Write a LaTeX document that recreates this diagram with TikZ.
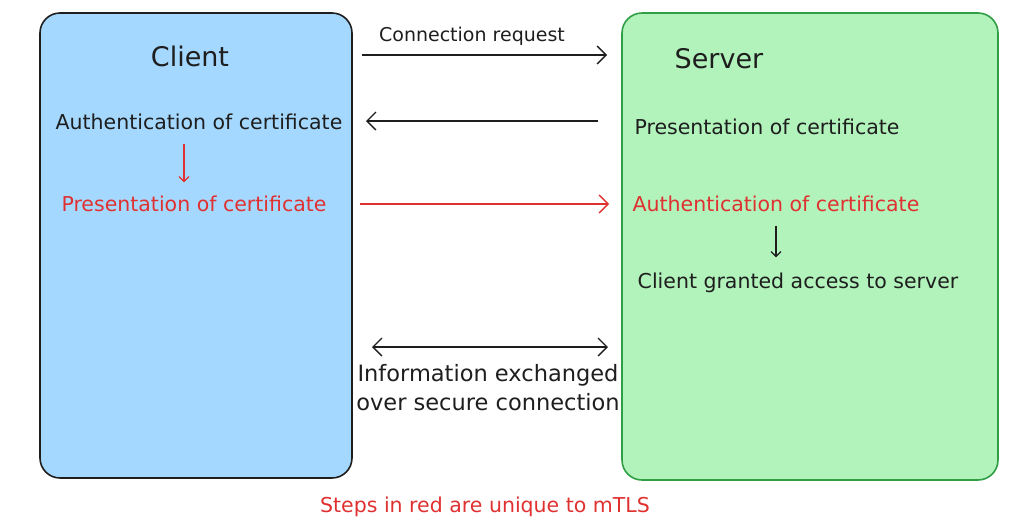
\documentclass[tikz,border=0pt]{standalone}
\usepackage{fontspec}
\setmainfont{DejaVu Sans}
\usetikzlibrary{arrows.meta,calc,positioning}
\definecolor{clientfill}{HTML}{A5D8FF}
\definecolor{serverfill}{HTML}{B2F2BB}
\definecolor{serverline}{HTML}{2F9E44}
\definecolor{inkred}{HTML}{E03131}
\definecolor{ink}{HTML}{1E1E1E}
\tikzstyle{party} = [draw=ink, line width=1.6pt, rounded corners=20pt, inner sep=0pt]
\tikzstyle{title} = [text=ink, font=\fontsize{27}{30}\selectfont]
\tikzstyle{msg} = [text=ink, font=\fontsize{20.5}{24}\selectfont, inner sep=1pt]
\tikzstyle{note} = [font=\fontsize{19}{22}\selectfont, inner sep=1pt]
\tikzstyle{small} = [>={Straight Barb[length=5pt,width=10pt]}]

\begin{document}
\begin{tikzpicture}[x=1pt,y=-1pt,>={Straight Barb[length=9pt,width=18pt]},line width=1.3pt]
            \useasboundingbox (0,0) rectangle (1026,528);

            % the two parties
            \node[party,fill=clientfill,minimum width=312pt,minimum height=465pt] (Client) at (196,245.5) {};
            \node[party,fill=serverfill,draw=serverline,minimum width=376pt,minimum height=467pt] (Server) at (810,246.5) {};
            \node[title] (ClientTitle) at (190,56) {Client};
            \node[title] (ServerTitle) at (719,59) {Server};

            % steps
            \node[msg] (CAuth) at (199,122) {Authentication of certificate};
            \node[msg,text=inkred] (CPres) at (194,204) {Presentation of certificate};
            \node[msg] (SPres) at (767,127) {Presentation of certificate};
            \node[msg,text=inkred] (SAuth) at (776,204) {Authentication of certificate};
            \node[msg] (Granted) at (798,283) {Client granted access to server};
            \node[msg,align=center,font=\fontsize{22.5}{29}\selectfont] (Exchange) at (488,388) {Information exchanged\\over secure connection};
            \node[note,text=ink] (ReqLabel) at (472,36) {Connection request};
            \node[note,text=inkred,font=\fontsize{20.5}{24}\selectfont] (Legend) at (485,507) {Steps in red are unique to mTLS};

            \coordinate (ReqStart) at (362,55);
            \coordinate (ReqEnd) at (607,55);
            \coordinate (CertBack) at (598,121);
            \coordinate (CertTo) at (366,121);
            \coordinate (RedStart) at (360,204);
            \coordinate (RedEnd) at (609,204);
            \coordinate (SecLeft) at (372,347);
            \coordinate (SecRight) at (608,347);

            % messages
            \draw[->,ink] (ReqStart) -- (ReqEnd);
            \draw[->,ink] (CertBack) -- (CertTo);
            \draw[->,inkred] (RedStart) -- (RedEnd);
            \draw[<->,ink] (SecLeft) -- (SecRight);

            % inside the parties
            \draw[->,inkred,small,shorten <=12pt,shorten >=12pt] (CAuth.south -| 184,0) -- (CPres.north -| 184,0);
            \draw[->,ink,small,shorten <=12pt,shorten >=14pt] (SAuth.south) -- (Granted.north -| SAuth.south);
\end{tikzpicture}
\end{document}
